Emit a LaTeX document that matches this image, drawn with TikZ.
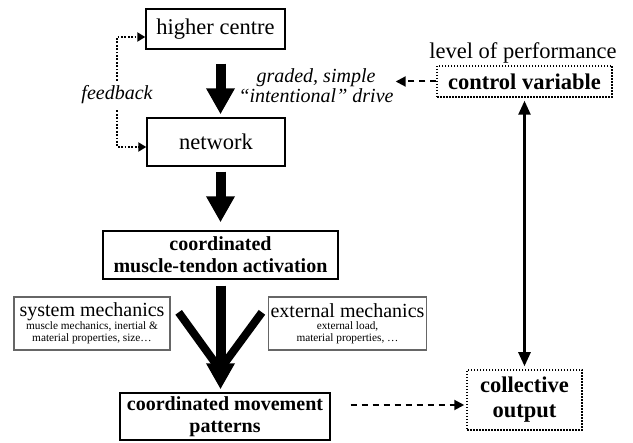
\documentclass[tikz,border=0pt]{standalone}
\usepackage{fontspec}
\setmainfont{Liberation Serif}
\usetikzlibrary{arrows.meta}

\newcommand{\largetext}{\fontsize{22.5}{25}\selectfont}
\newcommand{\medtext}{\fontsize{20}{22}\selectfont}
\newcommand{\smalltext}{\fontsize{11.3}{12}\selectfont}

\begin{document}
\begin{tikzpicture}[x=1pt, y=-1pt, line join=miter,
    box/.style={draw, line width=1.4pt, inner sep=2pt, align=center},
    mechbox/.style={draw=black!60, line width=1.3pt, inner sep=2pt, align=center},
    varbox/.style={draw, line width=1.5pt, dash pattern=on 1.5pt off 1.5pt, inner sep=2pt, align=center, font=\bfseries\largetext},
    bigarrow/.style={line width=10pt, -{Triangle[width=27pt, length=26pt]}},
    bigline/.style={line width=8pt},
    dasharrow/.style={line width=2pt, dash pattern=on 6pt off 5pt, -{Triangle[width=10pt, length=10pt]}},
    fbline/.style={line width=2.2pt, dash pattern=on 1.8pt off 1.6pt, -{Triangle[width=9pt, length=8pt]}}
  ]
  \useasboundingbox (0,0) rectangle (633,443);

  % main chain
  \node[box, minimum width=139pt, minimum height=40pt, font=\largetext] (hc) at (215.5,29) {higher centre};
  \node[box, minimum width=138pt, minimum height=48pt, font=\largetext] (nw) at (216,142) {network};
  \node[box, minimum width=235pt, minimum height=48pt, font=\bfseries\medtext] (mta) at (220.5,255) {coordinated\\muscle-tendon activation};
  \node[mechbox, minimum width=156pt, minimum height=53pt] (sm) at (92,323.5)
    {{\medtext system mechanics}\\{\smalltext muscle mechanics, inertial \&}\\{\smalltext material properties, size\ldots}};
  \node[mechbox, minimum width=157pt, minimum height=53pt] (em) at (347.5,323.5)
    {{\medtext external mechanics}\\{\smalltext external load,}\\{\smalltext material properties, \ldots}};
  \node[box, minimum width=210pt, minimum height=47pt, font=\bfseries\medtext] (cmp) at (225,416.5) {coordinated movement\\patterns};

  % labels
  \node[inner sep=0pt, font=\itshape\medtext] (fb) at (117,95) {feedback};
  \node[inner sep=2pt, align=center, font=\itshape\fontsize{20}{20}\selectfont] (drive) at (316,86) {graded, simple\\“intentional” drive};
  \node[font=\largetext] (lop) at (523,53) {level of performance};

  % right side
  \node[varbox, minimum width=175pt, minimum height=31pt] (cv) at (524.5,81.5) {control variable};
  \node[varbox, minimum width=115pt, minimum height=60pt] (co) at (524.5,400) {collective\\output};

  % thick arrows
  \draw[bigarrow, shorten <=14pt, shorten >=3pt] (hc.south -| mta.north) -- (nw.north -| mta.north);
  \draw[bigarrow, shorten <=5pt, shorten >=8pt] (nw.south -| mta.north) -- (mta.north);
  \coordinate (join) at (220,364);
  \draw[bigline] ([shift={(8,16)}]sm.north east) -- ([xshift=-4pt]join);
  \draw[bigline] ([shift={(-6,16)}]em.north west) -- ([xshift=4pt]join);
  \draw[bigarrow, shorten <=6pt, shorten >=3pt] (mta.south) -- (cmp.north -| mta.south);

  % feedback loop
  \draw[fbline, shorten <=5pt] (fb.north) |- ([yshift=-8pt]hc.west);
  \draw[fbline, shorten <=6pt] (fb.south) |- ([yshift=-5pt]nw.west);

  % control and output
  \draw[dasharrow] (cv.west) -- (cv.west -| drive.east);
  \draw[line width=2.5pt, {Triangle[width=12pt, length=14pt]}-{Triangle[width=12pt, length=14pt]}, shorten <=3pt, shorten >=3pt] (cv.south) -- (co.north);
  \draw[dasharrow, shorten <=20pt, shorten >=2pt] ([yshift=-5pt]co.west -| cmp.east) -- ([yshift=-5pt]co.west);
\end{tikzpicture}
\end{document}
